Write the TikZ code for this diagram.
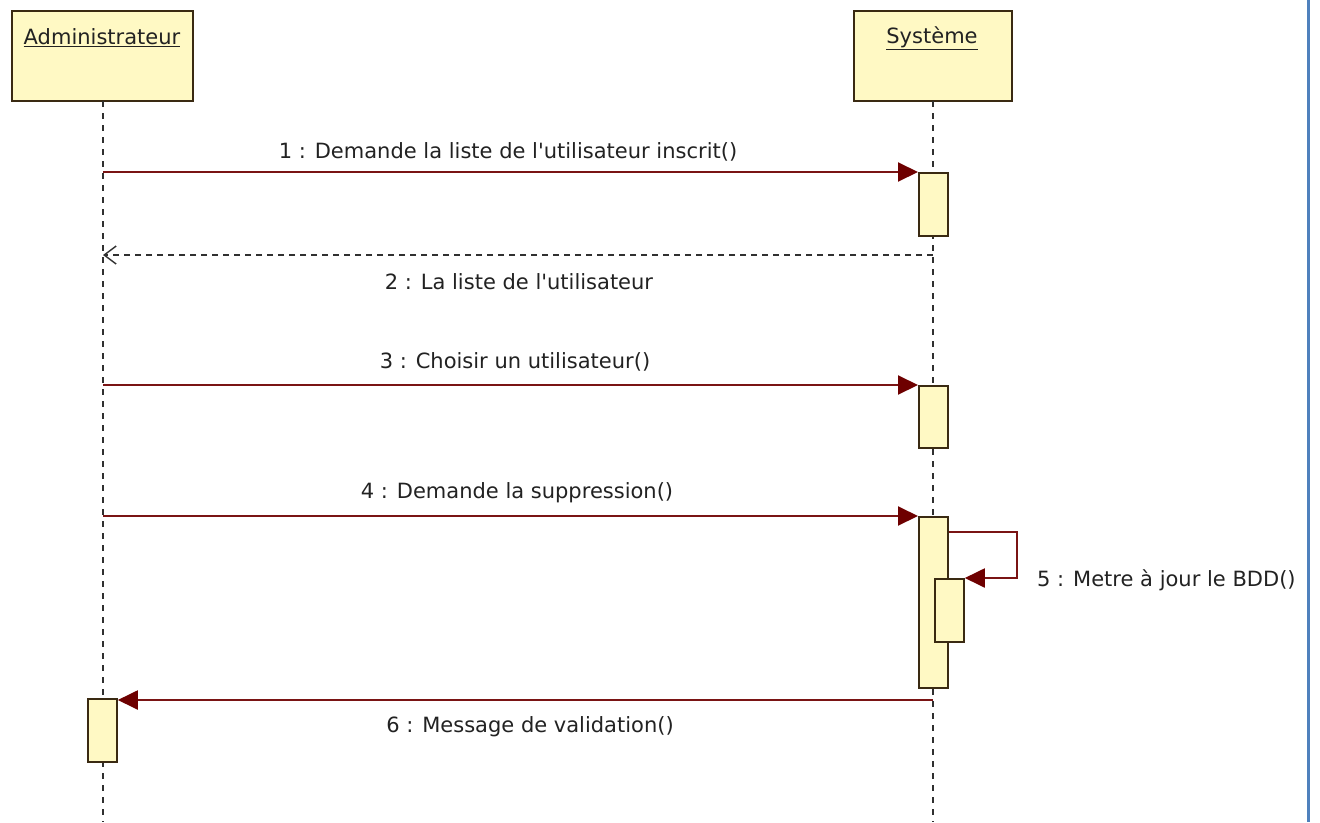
\documentclass[tikz,border=0pt]{standalone}
\usepackage{fontspec}
\setmainfont{DejaVu Sans}
\usetikzlibrary{arrows.meta}
\definecolor{boxfill}{HTML}{FFF9C4}
\definecolor{boxline}{HTML}{3A2A12}
\definecolor{msgcol}{HTML}{7A1414}
\definecolor{tipcol}{HTML}{6E0000}
\definecolor{txtcol}{HTML}{222222}
\definecolor{lifecol}{HTML}{303030}
\definecolor{bluecol}{HTML}{4F81BD}
\newcommand{\apos}{\textquotesingle}
\begin{document}
\begin{tikzpicture}[x=1pt,y=-1pt,
  actorbox/.style={draw=boxline, line width=2pt, fill=boxfill, minimum width=181pt, minimum height=90pt, inner sep=0pt, anchor=north west},
  actbox/.style={draw=boxline, line width=1.8pt, fill=boxfill, minimum width=29pt, inner sep=0pt, anchor=north west},
  lifeline/.style={draw=lifecol, line width=2pt, dash pattern=on 6pt off 6pt},
  msg/.style={draw=msgcol, line width=2pt, -{Triangle[length=20pt,width=19pt,fill=tipcol,color=tipcol]}},
  retmsg/.style={draw=lifecol, line width=1.6pt, dash pattern=on 6pt off 5pt, -{Straight Barb[length=12pt,width=18pt,line width=1.4pt]}},
  lbl/.style={text=txtcol, font=\fontsize{21}{25}\selectfont, inner sep=0pt},
  ttl/.style={text=txtcol, font=\fontsize{21}{25}\selectfont, inner sep=0pt}
]
\useasboundingbox (0,0) rectangle (1320,822);
\fill[white] (0,0) rectangle (1320,822);

% actors
\node[actorbox] (admin) at (11,10) {};
\node[actorbox, minimum width=158pt] (sys) at (853,10) {};
\node[ttl] (adminT) at (102,38) {\underline{Administrateur}};
\node[ttl] (sysT) at (932,38) {\underline{Système}};

% lifelines
\coordinate (aTop) at (103,101);
\coordinate (aBot) at (103,822);
\coordinate (sTop) at (933,101);
\coordinate (sBot) at (933,822);
\draw[lifeline] (aTop) -- (aBot);
\draw[lifeline] (sTop) -- (sBot);

% activations
\node[actbox, minimum height=63pt] (a1) at (918,172) {};
\node[actbox, minimum height=62pt] (a3) at (918,385) {};
\node[actbox, minimum height=171pt] (a4) at (918,516) {};
\node[actbox, minimum height=63pt] (a5) at (934,578) {};
\node[actbox, minimum height=63pt] (aA) at (87,698) {};

% messages
\draw[msg] (aTop |- a1.north) -- (a1.north west);
\node[lbl] (l1) at (508,152) {1 : Demande la liste de l\apos utilisateur inscrit()};

\coordinate (r2) at (933,255);
\draw[retmsg] (r2) -- (aTop |- r2);
\node[lbl] (l2) at (519,282) {2 : La liste de l\apos utilisateur};

\draw[msg] (aTop |- a3.north) -- (a3.north west);
\node[lbl] (l3) at (515,362) {3 : Choisir un utilisateur()};

\draw[msg] (aTop |- a4.north) -- (a4.north west);
\node[lbl] (l4) at (517,493) {4 : Demande la suppression()};

\coordinate (loopA) at (1017,532);
\draw[msg] ([yshift=-16pt]a4.north east) -- (loopA) -- (loopA |- a5.north) -- (a5.north east);
\node[lbl, anchor=west] (l5) at (1037,580) {5 : Metre à jour le BDD()};

\coordinate (m6) at (933,700);
\draw[msg] (m6) -- (m6 -| aA.east);
\node[lbl] (l6) at (530,727) {6 : Message de validation()};

% right border
\coordinate (bTop) at (1308,0);
\coordinate (bBot) at (1308,822);
\draw[bluecol, line width=3pt] (bTop) -- (bBot);
\end{tikzpicture}
\end{document}
